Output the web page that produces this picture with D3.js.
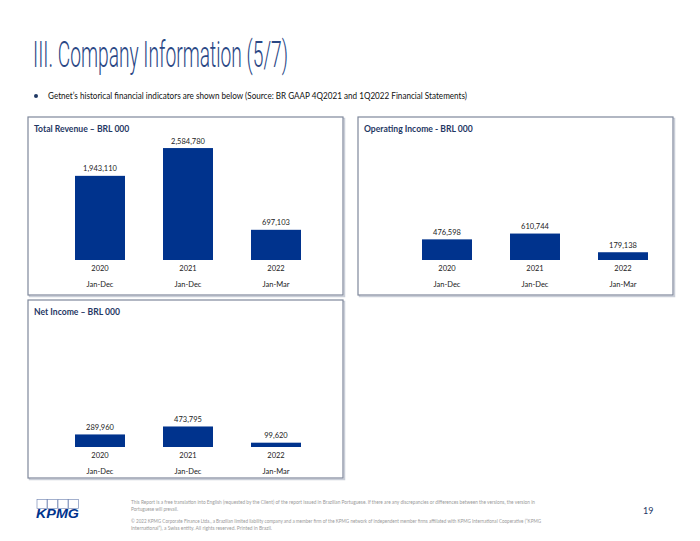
<!DOCTYPE html>
<html>
<head>
<meta charset="utf-8">
<script src="https://cdn.jsdelivr.net/npm/d3@7"></script>
<style>
  body { margin: 0; background: #fff; }
  text { font-family: Lato, "Open Sans", sans-serif; }
</style>
</head>
<body>
<div class="page"></div>
<script>
// data
var periods = ["2020", "2021", "2022"];
var periodSpans = ["Jan-Dec", "Jan-Dec", "Jan-Mar"];
var totalRevenue = [1943110, 2584780, 697103];
var operatingIncome = [476598, 610744, 179138];
var netIncome = [289960, 473795, 99620];
var chartTitles = ["Total Revenue \u2013 BRL 000", "Operating Income - BRL 000", "Net Income \u2013 BRL 000"];

var navy = "#1f3864", barBlue = "#00338d";

var svg = d3.select(".page")
  .append("svg")
    .attr("width", 700)
    .attr("height", 541);

// page title
svg.append("text")
  .attr("x", 33).attr("y", 67)
  .attr("textLength", 255)
  .attr("lengthAdjust", "spacingAndGlyphs")
  .style("font-family", "Roboto")
  .style("font-weight", 300)
  .style("font-size", "36px")
  .attr("fill", "#2a4785")
  .text("III. Company Information (5/7)");

svg.append("circle").attr("cx", 36).attr("cy", 96).attr("r", 2).attr("fill", navy);
svg.append("text")
  .attr("x", 48).attr("y", 99)
  .attr("textLength", 419)
  .attr("lengthAdjust", "spacingAndGlyphs")
  .style("font-size", "8.8px")
  .attr("fill", "#111")
  .text("Getnet\u2019s historical financial indicators are shown below (Source: BR GAAP 4Q2021 and 1Q2022 Financial Statements)");

// one scale for every panel, same px per BRL 000
var y = d3.scaleLinear().domain([0, 2600000]).range([0, 112.6]);
var fmt = d3.format(",");

var panels = [
  {values: totalRevenue, title: chartTitles[0], box: [28, 117, 315, 178], bars: [56, 320], base: 260},
  {values: operatingIncome, title: chartTitles[1], box: [358, 117, 315, 178], bars: [403, 667], base: 260},
  {values: netIncome, title: chartTitles[2], box: [28, 300, 315, 178], bars: [56, 320], base: 447}
];

panels.forEach(function(p) {
  var g = svg.append("g");
  var b = p.box;

  // shadow + frame
  g.append("rect")
    .attr("x", b[0] + 1.5).attr("y", b[1] + 1.5)
    .attr("width", b[2]).attr("height", b[3])
    .attr("fill", "none").attr("stroke", "#c9ced8").attr("stroke-width", 1.5);
  g.append("rect")
    .attr("x", b[0]).attr("y", b[1])
    .attr("width", b[2]).attr("height", b[3])
    .attr("fill", "#fff").attr("stroke", "#7f889b").attr("stroke-width", 1.2);

  g.append("text")
    .attr("x", b[0] + 6).attr("y", b[1] + 15)
    .style("font-size", "8.6px").style("font-weight", 700)
    .attr("fill", navy)
    .text(p.title);

  var x = d3.scaleBand()
    .domain(periods)
    .range(p.bars)
    .paddingInner(0.432)
    .paddingOuter(0.216);

  var data = periods.map(function(d, i) { return {period: d, span: periodSpans[i], value: p.values[i]}; });

  g.selectAll(".bar")
    .data(data)
    .enter().append("rect")
      .attr("class", "bar")
      .attr("x", function(d) { return x(d.period); })
      .attr("y", function(d) { return p.base - y(d.value); })
      .attr("width", x.bandwidth())
      .attr("height", function(d) { return y(d.value); })
      .attr("fill", barBlue);

  g.selectAll(".val")
    .data(data)
    .enter().append("text")
      .attr("class", "val")
      .attr("x", function(d) { return x(d.period) + x.bandwidth() / 2; })
      .attr("y", function(d) { return p.base - y(d.value) - 4.5; })
      .attr("text-anchor", "middle")
      .style("font-size", "7.5px")
      .attr("fill", "#222")
      .text(function(d) { return fmt(d.value); });

  var axis = g.append("g")
    .attr("transform", "translate(0," + p.base + ")")
    .call(d3.axisBottom(x).tickSize(0).tickPadding(6));
  axis.select(".domain").remove();
  axis.selectAll("text")
    .style("font-family", "Lato, sans-serif")
    .style("font-size", "7.5px")
    .attr("fill", "#222");

  g.selectAll(".span")
    .data(data)
    .enter().append("text")
      .attr("class", "span")
      .attr("x", function(d) { return x(d.period) + x.bandwidth() / 2; })
      .attr("y", p.base + 27)
      .attr("text-anchor", "middle")
      .style("font-size", "7.5px")
      .attr("fill", "#222")
      .text(function(d) { return d.span; });
});

// footer: KPMG logo
var logo = svg.append("g");
[0, 1, 2, 3].forEach(function(i) {
  logo.append("rect")
    .attr("x", 37 + i * 10.5).attr("y", 499.5)
    .attr("width", 10).attr("height", 9)
    .attr("fill", "none").attr("stroke", "#7d8fb8").attr("stroke-width", 0.7);
});
logo.append("text")
  .attr("x", 36).attr("y", 518)
  .attr("textLength", 43)
  .attr("lengthAdjust", "spacingAndGlyphs")
  .style("font-family", "Liberation Sans, Arial, sans-serif")
  .style("font-size", "12px").style("font-weight", 700).style("font-style", "italic")
  .attr("fill", barBlue)
  .text("KPMG");

var footLines = [
  {t: "This Report is a free translation into English (requested by the Client) of the report issued in Brazilian Portuguese. If there are any discrepancies or differences between the versions, the version in", y: 504, w: 404},
  {t: "Portuguese will prevail.", y: 511, w: 47},
  {t: "\u00a9 2022 KPMG Corporate Finance Ltda., a Brazilian limited liability company and a member firm of the KPMG network of independent member firms affiliated with KPMG International Cooperative (\u201cKPMG", y: 523, w: 410},
  {t: "International\u201d), a Swiss entity. All rights reserved. Printed in Brazil.", y: 530, w: 141}
];
footLines.forEach(function(l) {
  svg.append("text")
    .attr("x", 131).attr("y", l.y)
    .attr("textLength", l.w)
    .attr("lengthAdjust", "spacingAndGlyphs")
    .style("font-size", "4.8px")
    .attr("fill", "#9a9a9a")
    .text(l.t);
});

svg.append("text")
  .attr("x", 643).attr("y", 514)
  .style("font-size", "9px")
  .attr("fill", navy)
  .text("19");
</script>
</body>
</html>
